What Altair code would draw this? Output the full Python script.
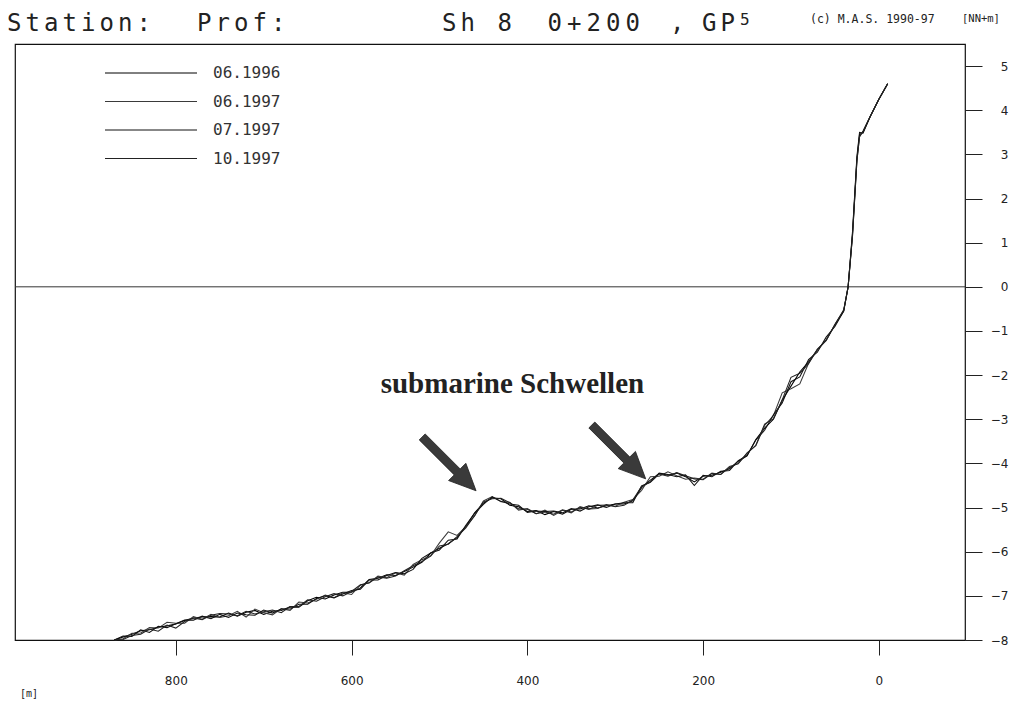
import altair as alt
import pandas as pd

# ---------------- data ----------------
DIST = [870, 860, 850, 840, 830, 820, 810, 800, 790, 780,
        770, 760, 750, 740, 730, 720, 710, 700, 690, 680,
        670, 660, 650, 640, 630, 620, 610, 600, 590, 580,
        570, 560, 550, 540, 530, 520, 510, 500, 490, 480,
        470, 460, 450, 440, 430, 420, 410, 400, 390, 380,
        370, 360, 350, 340, 330, 320, 310, 300, 290, 280,
        270, 260, 250, 240, 230, 220, 210, 200, 190, 180,
        170, 160, 150, 140, 130, 120, 110, 100, 90, 80,
        70, 60, 50, 40, 35, 30, 25, 22, 18, 10,
        0, -10]

S_0696 = [-8.00, -7.93, -7.87, -7.79, -7.77, -7.71, -7.68, -7.64, -7.56, -7.50,
          -7.48, -7.47, -7.48, -7.39, -7.46, -7.37, -7.33, -7.42, -7.35, -7.33,
          -7.25, -7.26, -7.11, -7.03, -7.07, -6.98, -6.92, -6.92, -6.82, -6.63,
          -6.60, -6.52, -6.54, -6.45, -6.35, -6.24, -6.03, -5.92, -5.82, -5.68,
          -5.43, -5.12, -4.90, -4.78, -4.80, -4.95, -4.98, -5.09, -5.07, -5.16,
          -5.09, -5.15, -5.04, -5.03, -4.96, -5.01, -4.96, -4.92, -4.92, -4.85,
          -4.55, -4.38, -4.23, -4.27, -4.22, -4.30, -4.42, -4.29, -4.27, -4.20,
          -4.12, -3.95, -3.83, -3.46, -3.20, -3.00, -2.57, -2.25, -1.93, -1.70,
          -1.43, -1.21, -0.86, -0.55, 0.00, 1.20, 2.90, 3.45, 3.50, 3.85,
          4.25, 4.60]

S_0697 = [-8.00, -7.97, -7.85, -7.84, -7.72, -7.73, -7.60, -7.62, -7.62, -7.47,
          -7.53, -7.42, -7.49, -7.45, -7.35, -7.48, -7.30, -7.38, -7.43, -7.29,
          -7.33, -7.14, -7.16, -7.08, -6.98, -7.04, -6.93, -6.97, -6.76, -6.70,
          -6.55, -6.59, -6.48, -6.53, -6.29, -6.18, -6.09, -5.80, -5.55, -5.63,
          -5.43, -5.19, -4.85, -4.75, -4.87, -4.88, -5.06, -5.02, -5.14, -5.06,
          -5.18, -5.06, -5.12, -4.98, -5.04, -4.95, -4.94, -4.97, -4.88, -4.82,
          -4.61, -4.30, -4.29, -4.19, -4.28, -4.36, -4.33, -4.36, -4.22, -4.25,
          -4.07, -4.01, -3.76, -3.60, -3.14, -2.92, -2.40, -2.31, -2.20, -1.73,
          -1.41, -1.22, -0.85, -0.53, 0.00, 1.15, 2.85, 3.40, 3.52, 3.85,
          4.25, 4.60]

S_0797 = [-8.00, -7.91, -7.92, -7.77, -7.83, -7.69, -7.72, -7.63, -7.55, -7.55,
          -7.46, -7.52, -7.42, -7.49, -7.39, -7.43, -7.44, -7.32, -7.39, -7.30,
          -7.30, -7.19, -7.19, -7.06, -7.00, -7.05, -6.96, -6.88, -6.85, -6.64,
          -6.64, -6.54, -6.47, -6.50, -6.40, -6.15, -6.03, -5.96, -5.74, -5.71,
          -5.40, -5.13, -4.93, -4.76, -4.86, -4.92, -4.95, -5.11, -5.08, -5.09,
          -5.08, -5.12, -5.02, -5.08, -4.98, -4.94, -5.00, -4.92, -4.89, -4.89,
          -4.51, -4.42, -4.22, -4.25, -4.30, -4.26, -4.50, -4.27, -4.30, -4.18,
          -4.16, -3.94, -3.82, -3.47, -3.25, -2.90, -2.63, -2.15, -2.04, -1.65,
          -1.48, -1.14, -0.90, -0.55, 0.00, 1.25, 2.95, 3.50, 3.48, 3.85,
          4.25, 4.60]

S_1097 = [-8.00, -7.99, -7.90, -7.87, -7.75, -7.80, -7.66, -7.73, -7.58, -7.50,
          -7.54, -7.44, -7.40, -7.41, -7.45, -7.35, -7.41, -7.36, -7.32, -7.38,
          -7.24, -7.24, -7.09, -7.12, -7.02, -6.95, -7.00, -6.90, -6.75, -6.71,
          -6.57, -6.60, -6.55, -6.43, -6.32, -6.22, -6.10, -5.87, -5.83, -5.66,
          -5.46, -5.18, -4.87, -4.80, -4.79, -4.89, -5.03, -5.04, -5.14, -5.10,
          -5.15, -5.05, -5.10, -5.00, -5.03, -5.02, -4.93, -4.98, -4.95, -4.83,
          -4.52, -4.43, -4.24, -4.29, -4.21, -4.28, -4.35, -4.37, -4.23, -4.25,
          -4.09, -4.00, -3.77, -3.59, -3.11, -2.99, -2.56, -2.05, -1.96, -1.74,
          -1.42, -1.21, -0.86, -0.52, 0.00, 1.15, 2.85, 3.40, 3.53, 3.85,
          4.25, 4.60]

SERIES = ["06.1996", "06.1997", "07.1997", "10.1997"]
VALUES = [S_0696, S_0697, S_0797, S_1097]
COLORS = ["#000000", "#3a3a3a", "#111111", "#222222"]

X_TICKS = [800, 600, 400, 200, 0]
Y_TICKS = [5, 4, 3, 2, 1, 0, -1, -2, -3, -4, -5, -6, -7, -8]

ANNOT_TEXT = "submarine Schwellen"
ANNOT_POS = (417, -2.2)
ARROWS = [(489, -4.01), (296, -3.74)]

# ---------------- build ----------------
rows = []
for name, vals in zip(SERIES, VALUES):
    for d, v in zip(DIST, vals):
        rows.append({"dist": d, "elev": v, "series": name})
df = pd.DataFrame(rows)

W, H = 950, 596
xscale = alt.Scale(domain=[-98, 983], reverse=True, nice=False, zero=False)
yscale = alt.Scale(domain=[-8, 5.5], nice=False, zero=False)

xaxis = alt.Axis(values=X_TICKS, format="d", tickSize=15, labelPadding=20,
                 labelFontSize=12, labelFont="DejaVu Sans", labelColor="#222",
                 domain=False, grid=False, title=None, tickColor="#222")
yaxis = alt.Axis(orient="right", values=Y_TICKS, format="d", tickSize=17,
                 labelPadding=26, labelFontSize=12, labelFont="DejaVu Sans",
                 labelColor="#222", domain=False, grid=False, title=None,
                 tickColor="#222", labelAlign="right", labelBound=False)

lines = alt.Chart(df).mark_line(strokeWidth=1.05).encode(
    x=alt.X("dist:Q", scale=xscale, axis=xaxis),
    y=alt.Y("elev:Q", scale=yscale, axis=yaxis),
    color=alt.Color("series:N", scale=alt.Scale(domain=SERIES, range=COLORS), legend=None),
    detail="series:N",
)

zero = alt.Chart(pd.DataFrame({"z": [0]})).mark_rule(color="#333", strokeWidth=1).encode(
    y=alt.Y("z:Q", scale=yscale)
)

layers = [zero, lines]

# legend (manual)
for i, (name, col) in enumerate(zip(SERIES, COLORS)):
    yy = 29 + i * 28.5
    layers.append(alt.Chart(pd.DataFrame({"a": [0]})).mark_rule(color=col, strokeWidth=1).encode(
        x=alt.value(90), x2=alt.value(182), y=alt.value(yy)))
    layers.append(alt.Chart(pd.DataFrame({"t": [name]})).mark_text(
        align="left", baseline="middle", font="DejaVu Sans Mono", fontSize=16,
        color="#333").encode(x=alt.value(198), y=alt.value(yy), text="t:N"))

# annotation
ann = pd.DataFrame({"x": [ANNOT_POS[0]], "y": [ANNOT_POS[1]], "t": [ANNOT_TEXT]})
layers.append(alt.Chart(ann).mark_text(
    font="Liberation Serif", fontWeight="bold", fontSize=29, color="#222",
    align="center", baseline="middle").encode(
    x=alt.X("x:Q", scale=xscale), y=alt.Y("y:Q", scale=yscale), text="t:N"))

ARROW_PATH = "M -1 -0.11 L 0.30 -0.11 L 0.30 -0.32 L 1 0 L 0.30 0.32 L 0.30 0.11 L -1 0.11 Z"
arr = pd.DataFrame({"x": [a[0] for a in ARROWS], "y": [a[1] for a in ARROWS]})
layers.append(alt.Chart(arr).mark_point(
    shape=ARROW_PATH, size=5800, angle=45, filled=True, color="#3a3a3a",
    stroke="#222", strokeWidth=0.8, opacity=1).encode(
    x=alt.X("x:Q", scale=xscale), y=alt.Y("y:Q", scale=yscale)))

# header: plotter-style text, one glyph per fixed pitch (page coords)
TITLE_WORDS = [("Station:", 5, 18.5), ("Prof:", 195, 18.5), ("Sh 8", 440, 18.5),
               ("0+200", 545, 19.5), (",", 668, 18.5), ("GP", 700, 18.5)]
for word, x0, pitch in TITLE_WORDS:
    for k, ch in enumerate(word):
        if ch == " ":
            continue
        layers.append(alt.Chart(pd.DataFrame({"t": [ch]})).mark_text(
            align="center", baseline="alphabetic", font="DejaVu Sans Mono",
            fontSize=24, color="#222").encode(
            x=alt.value(x0 + pitch * k + pitch / 2 - 15), y=alt.value(31 - 44), text="t:N"))

SMALL = [
    ("5", 740, 25, 16),
    ("(c) M.A.S. 1990-97", 810, 23, 11.5),
    ("[NN+m]", 962, 22, 10.5),
    ("[m]", 20, 697, 10),
]
for txt, px, py, fs in SMALL:
    layers.append(alt.Chart(pd.DataFrame({"t": [txt]})).mark_text(
        align="left", baseline="alphabetic", font="DejaVu Sans Mono", fontSize=fs,
        color="#222").encode(x=alt.value(px - 15), y=alt.value(py - 44), text="t:N"))

chart = alt.layer(*layers).properties(
    width=W, height=H,
    padding={"left": 7, "top": 36, "right": 46, "bottom": 61},
    autosize=alt.AutoSizeParams(type="none"),
    background="white",
).configure_view(stroke="#111", strokeWidth=1.2)

chart.save("out.html", embed_options={"renderer": "svg", "actions": False})
